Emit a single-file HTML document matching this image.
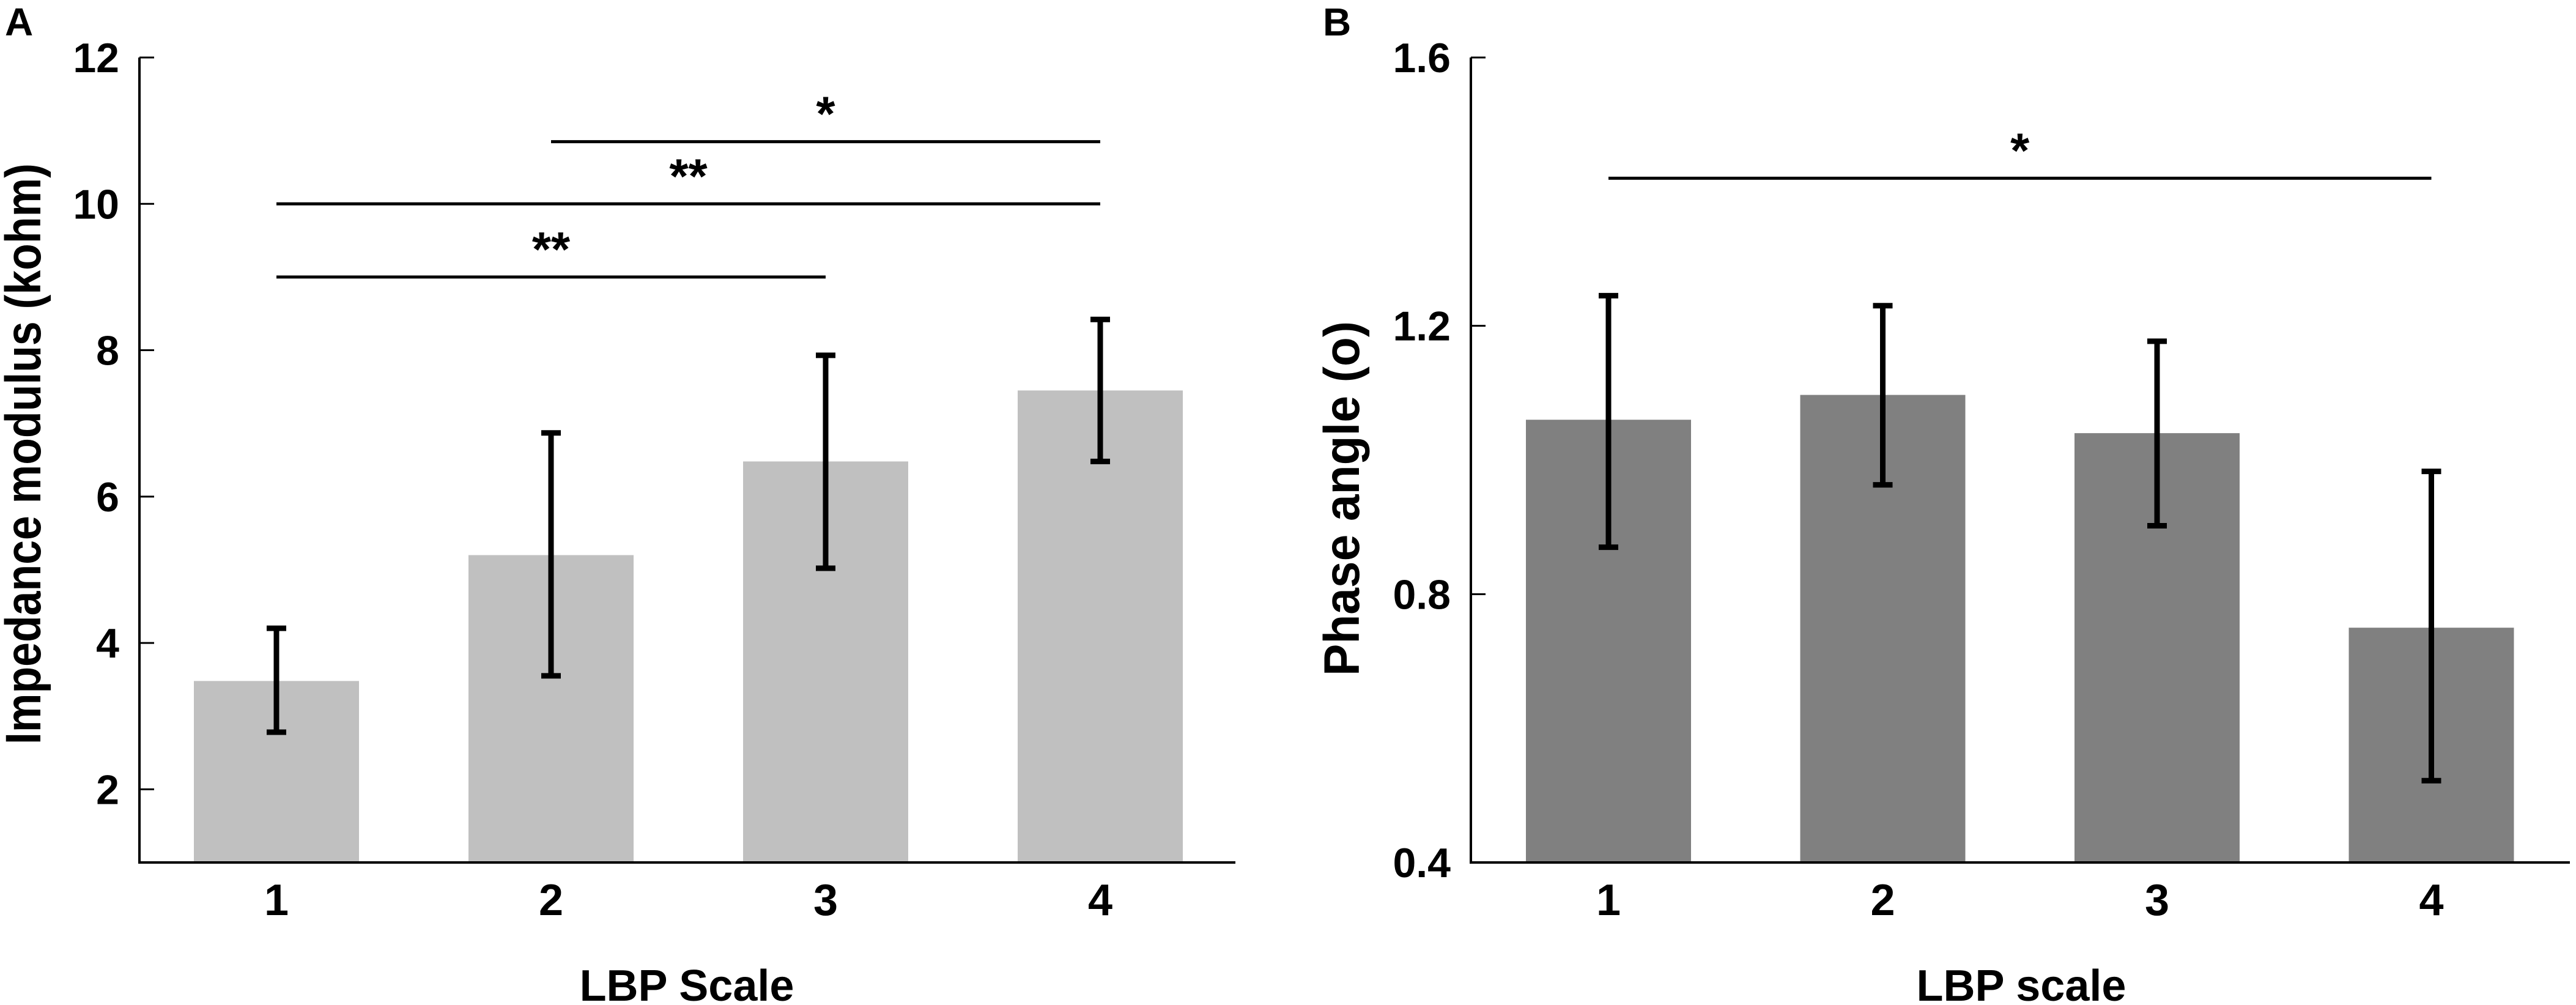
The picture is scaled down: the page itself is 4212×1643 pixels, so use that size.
<!DOCTYPE html>
<html><head><meta charset="utf-8"><style>
html,body{margin:0;padding:0;background:#fff;}
svg{display:block;font-family:"Liberation Sans",Arial,sans-serif;font-weight:bold;}
</style></head><body>
<svg id="fig" width="4212" height="1643" viewBox="0 0 4212 1643"></svg>
<script>
const categories = ["1","2","3","4"];
const aValues = [3.48, 5.2, 6.48, 7.45];
const aLow = [2.78, 3.55, 5.02, 6.48];
const aHigh = [4.2, 6.87, 7.93, 8.42];
const aTicks = [2,4,6,8,10,12];
const aSig = [[0,2,9.0,"**"],[0,3,10.0,"**"],[1,3,10.85,"*"]];
const bValues = [1.06, 1.097, 1.04, 0.75];
const bLow = [0.87, 0.963, 0.902, 0.522];
const bHigh = [1.245, 1.23, 1.177, 0.983];
const bTicks = ["0.4","0.8","1.2","1.6"];
const bSig = [[0,3,1.42,"*"]];

const NS="http://www.w3.org/2000/svg";
const svg=document.getElementById('fig');
function mk(tag,attrs,parent){const e=document.createElementNS(NS,tag);for(const k in attrs)e.setAttribute(k,attrs[k]);(parent||svg).appendChild(e);return e;}

function panel(o){
  const g=mk('g',{});
  
  
  const y=v=>o.y0+(v-o.vmin)/(o.vmax-o.vmin)*(o.y1-o.y0);
  const x=i=>o.cx0+i*o.step;
  o.vals.forEach((v,i)=>{
    const r=mk('rect',{x:x(i)-o.bw/2,y:y(v),width:o.bw,height:o.y0-y(v),fill:o.color},g);
    
    
  });
  o.vals.forEach((v,i)=>{
    const eg=mk('g',{stroke:'#000','stroke-width':9},g);
    
    
    mk('line',{x1:x(i),x2:x(i),y1:y(o.lo[i]),y2:y(o.hi[i])},eg);
    mk('line',{x1:x(i)-16,x2:x(i)+16,y1:y(o.lo[i]),y2:y(o.lo[i])},eg);
    mk('line',{x1:x(i)-16,x2:x(i)+16,y1:y(o.hi[i]),y2:y(o.hi[i])},eg);
  });
  const ax=mk('line',{x1:o.ax,x2:o.ax,y1:y(o.vmax),y2:o.y0+2,stroke:'#000','stroke-width':4},g);
  
  const xa=mk('line',{x1:o.ax-2,x2:o.xend,y1:o.y0,y2:o.y0,stroke:'#000','stroke-width':4},g);
  
  o.ticks.forEach(t=>{
    const tv=parseFloat(t);
    mk('line',{x1:o.ax,x2:o.ax+24,y1:y(tv),y2:y(tv),stroke:'#000','stroke-width':3},g);
    const tx=mk('text',{x:o.ax-33,y:y(tv)+24,'text-anchor':'end','font-size':68},g);
    tx.textContent=t;
    
  });
  categories.forEach((c,i)=>{
    const tx=mk('text',{x:x(i),y:o.y0+86,'text-anchor':'middle','font-size':72},g);
    tx.textContent=c;
    
  });
  o.sig.forEach(s=>{
    const l=mk('line',{x1:x(s[0]),x2:x(s[1]),y1:y(s[2]),y2:y(s[2]),stroke:'#000','stroke-width':5},g);
    
    const t=mk('text',{x:(x(s[0])+x(s[1]))/2,y:y(s[2])-18,'text-anchor':'middle','font-size':80},g);
    t.textContent=s[3];
    
  });
  const xt=mk('text',{x:o.xlx,y:1636,'text-anchor':'middle','font-size':72},g);
  xt.textContent=o.xlabel;
  
  const yt=mk('text',{x:0,y:0,'text-anchor':'middle','font-size':82,textLength:o.ylen,lengthAdjust:'spacingAndGlyphs',transform:`translate(${o.ylx},${o.yly}) rotate(-90)`},g);
  yt.textContent=o.ylabel;
  
  const pl=mk('text',{x:o.plx,y:58,'font-size':64},g);
  pl.textContent=o.letter;
  
}

panel({name:'panel-a',vals:aValues,lo:aLow,hi:aHigh,ticks:aTicks.map(String),sig:aSig,
  vmin:1,vmax:12,y0:1410,y1:94,ax:228,xend:2020,cx0:452,step:449,bw:270,color:'#c0c0c0',
  xlabel:'LBP Scale',xlx:1123,ylabel:'Impedance modulus (kohm)',ylx:66,yly:742,ylen:950,letter:'A',plx:8});
panel({name:'panel-b',vals:bValues,lo:bLow,hi:bHigh,ticks:bTicks,sig:bSig,
  vmin:0.4,vmax:1.6,y0:1410,y1:94,ax:2405,xend:4202,cx0:2630,step:448.5,bw:270,color:'#808080',
  xlabel:'LBP scale',xlx:3305,ylabel:'Phase angle (o)',ylx:2222,yly:815,ylen:580,letter:'B',plx:2163});
</script>
</body></html>
